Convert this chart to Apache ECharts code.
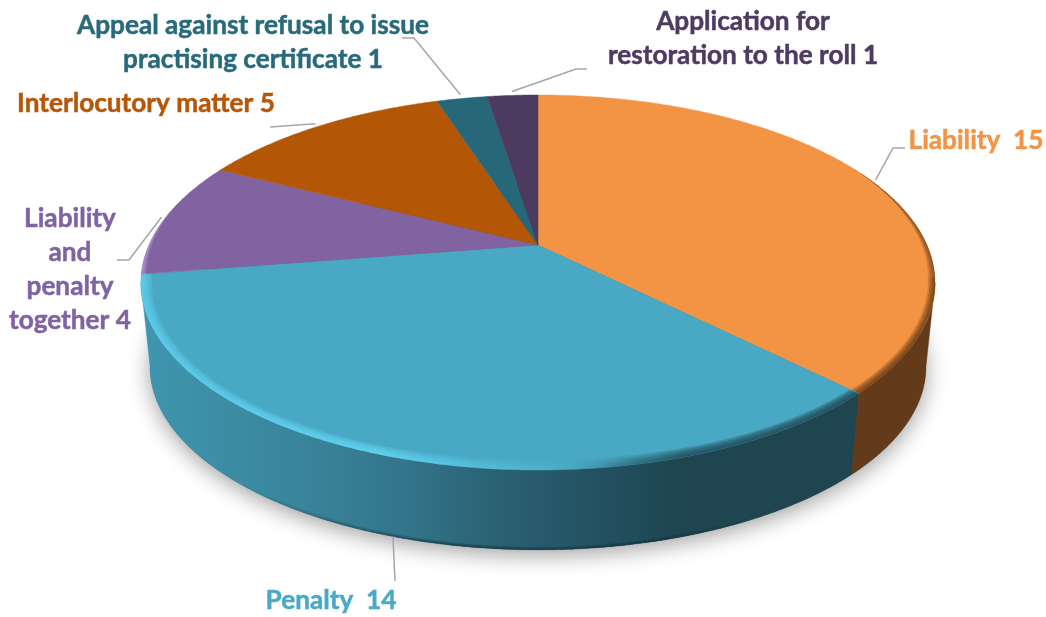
<!DOCTYPE html>
<html>
<head>
<meta charset="utf-8">
<title>Appeals by type</title>
<script src="https://cdn.jsdelivr.net/npm/echarts@6/dist/echarts.min.js"></script>
<style>
  html, body { margin: 0; padding: 0; background: #fff; }
  #chart { width: 1046px; height: 617px; }
</style>
</head>
<body>
<div id="chart"></div>
<script>
// data
const categories = [
  'Liability',
  'Penalty',
  'Liability\nand\npenalty\ntogether',
  'Interlocutory matter',
  'Appeal against refusal to issue\npractising certificate',
  'Application for\nrestoration to the roll'
];
const caseCounts = [15, 14, 4, 5, 1, 1];
const labelGaps = ['  ', '  ', ' ', ' ', ' ', ' '];

// styles
const topColors = ['#f39445', '#49a8c4', '#8063a0', '#b35605', '#266879', '#4c3a5f'];
const textColors = ['#f39445', '#4aa9c5', '#8064a2', '#b65708', '#276a7c', '#4d3b62'];
const sideColors = ['#633a1a', null, '#5a4670', '#7a3c04', '#1c4a56', '#352943'];
const LEADER_COLOR = '#a6a6a6';

// the disc is a circle seen in perspective, apex = centre of the circle
const APEX_X = 538, APEX_Y = 245;
const AX = 389, BY = 180, PERSP = 0.2;
const RIM_CX = 538, RIM_CY = 282.5;
const LOW_SCALE = 0.977, LOW_APEX_Y = 330;
// angles where the rim turns from the back of the disc to the front
const EDGE_FROM = 101.54, EDGE_TO = 258.46;

// label places, [x, y] is the middle of the text block
const labelPos = [[976, 140.5], [331, 600.5], [70, 270], [146, 104], [253, 43], [743, 39]];
// leader line after it leaves the rim
const leaderTail = [
  [[893, 148], [905, 148]],
  [[395, 581]],
  [[129, 260], [117, 260]],
  [[270, 127]],
  [[414, 38], [402, 38]],
  [[576, 69], [587, 69]]
];

const total = caseCounts.reduce((a, c) => a + c, 0);

const startAngle = i => caseCounts.slice(0, i).reduce((a, c) => a + c, 0) / total * 360;

const topPt = deg => {
  const t = deg * Math.PI / 180;
  const d = 1 + PERSP * Math.cos(t);
  return [APEX_X + AX * Math.sin(t) / d, APEX_Y - BY * Math.cos(t) / d];
};

const lowPt = deg => {
  const t = deg * Math.PI / 180;
  const d = 1 + PERSP * Math.cos(t);
  return [APEX_X + LOW_SCALE * AX * Math.sin(t) / d, LOW_APEX_Y - LOW_SCALE * BY * Math.cos(t) / d];
};

const insetPt = (deg, px) => {
  const p = topPt(deg);
  const dx = p[0] - RIM_CX, dy = p[1] - RIM_CY;
  const k = 1 - px / Math.sqrt(dx * dx + dy * dy);
  return [RIM_CX + dx * k, RIM_CY + dy * k];
};

const arcPts = (a, b, fn) => {
  const pts = [];
  const n = Math.max(2, Math.ceil(Math.abs(b - a) * 2));
  for (let i = 0; i <= n; i++) {
    pts.push(fn(a + (b - a) * i / n));
  }
  return pts;
};

const xGradient = (x0, x1, stops) => new echarts.graphic.LinearGradient(x0, 0, x1, 0, stops, true);

const penaltySide = xGradient(141, 936, [
  { offset: 0, color: '#3f96af' },
  { offset: 0.2, color: '#39859b' },
  { offset: 0.33, color: '#33758b' },
  { offset: 0.45, color: '#2a6172' },
  { offset: 0.58, color: '#235060' },
  { offset: 0.68, color: '#1e4550' },
  { offset: 1, color: '#1e4550' }
]);

const penaltyRim = xGradient(141, 936, [
  { offset: 0, color: 'rgba(96,212,242,0.24)' },
  { offset: 0.3, color: 'rgba(100,218,248,0.27)' },
  { offset: 0.42, color: 'rgba(96,212,242,0.12)' },
  { offset: 0.52, color: 'rgba(96,212,242,0.02)' },
  { offset: 0.58, color: 'rgba(30,69,80,0.05)' },
  { offset: 0.68, color: 'rgba(30,69,80,0.28)' },
  { offset: 1, color: 'rgba(30,69,80,0.32)' }
]);

// soft band inside the rim of the top face: [slice, from, to, width at from, width at to, fill]
const rimBands = [
  [0, 62, 100, 0, 7, 'rgba(80,45,15,0.17)'],
  [0, 100, 135, 7, 9, 'rgba(80,45,15,0.22)'],
  [1, 135, 261, 10, 11, penaltyRim],
  [2, 261, 282, 5, 0, 'rgba(190,160,225,0.2)']
];

const renderBase = (params, api) => {
  if (params.dataIndex !== 0) return { type: 'group', children: [] };
  return {
    type: 'polygon',
    shape: { points: arcPts(0, 360, lowPt) },
    style: {
      fill: '#555',
      shadowBlur: 22,
      shadowColor: 'rgba(0,0,0,0.38)',
      shadowOffsetY: 5
    }
  };
};

const renderSide = (params, api) => {
  const i = params.dataIndex;
  const a = Math.max(startAngle(i), EDGE_FROM);
  const b = Math.min(startAngle(i) + api.value(0) / total * 360, EDGE_TO);
  if (b <= a) return { type: 'group', children: [] };
  const fill = i === 1 ? penaltySide : sideColors[i];
  const pts = arcPts(a, b, topPt).concat(arcPts(b, a, lowPt));
  const children = [{
    type: 'polygon',
    shape: { points: pts },
    style: { fill, stroke: fill, lineWidth: 0.5 }
  }];
  if (i === 1) {
    // dark line where the side meets the floor
    for (let k = 1; k <= 3; k++) {
      const inner = arcPts(b, a, deg => {
        const p = lowPt(deg);
        return [p[0], p[1] - k];
      });
      children.push({
        type: 'polygon',
        shape: { points: arcPts(a, b, lowPt).concat(inner) },
        style: { fill: xGradient(240, 760, [
          { offset: 0, color: 'rgba(12,36,46,0)' },
          { offset: 0.4, color: 'rgba(12,36,46,0.24)' },
          { offset: 0.8, color: 'rgba(12,36,46,0.2)' },
          { offset: 1, color: 'rgba(12,36,46,0)' }
        ]) }
      });
    }
  }
  return { type: 'group', children };
};

const renderTop = (params, api) => {
  const i = params.dataIndex;
  const a = startAngle(i);
  const b = a + api.value(0) / total * 360;
  const children = [{
    type: 'polygon',
    shape: { points: [[APEX_X, APEX_Y]].concat(arcPts(a, b, topPt)) },
    style: { fill: topColors[i], stroke: topColors[i], lineWidth: 0.5 }
  }];
  rimBands.filter(r => r[0] === i).forEach(r => {
    const [, from, to, w0, w1, fill] = r;
    for (let k = 1; k <= 5; k++) {
      const inner = arcPts(to, from, deg => insetPt(deg, (w0 + (w1 - w0) * (deg - from) / (to - from)) * k / 5));
      children.push({
        type: 'polygon',
        shape: { points: arcPts(from, to, topPt).concat(inner) },
        style: { fill }
      });
    }
  });
  return { type: 'group', children };
};

const renderLabel = (params, api) => {
  const i = params.dataIndex;
  const mid = startAngle(i) + api.value(0) / total * 180;
  // front slices start on the floor edge, the others a little off the rim
  const start = mid > EDGE_FROM && mid < EDGE_TO ? lowPt(mid) : insetPt(mid, -4);
  return {
    type: 'group',
    children: [{
      type: 'polyline',
      shape: { points: [start].concat(leaderTail[i]) },
      style: { fill: 'none', stroke: LEADER_COLOR, lineWidth: 1.5 }
    }, {
      type: 'text',
      x: labelPos[i][0],
      y: labelPos[i][1],
      style: {
        text: categories[i] + labelGaps[i] + api.value(0),
        fill: textColors[i],
        stroke: textColors[i],
        lineWidth: 0.5,
        font: 'bold 26.2px Lato',
        lineHeight: 34,
        align: 'center',
        verticalAlign: 'middle'
      }
    }]
  };
};

const layer = (name, z, renderItem) => ({
  name,
  type: 'custom',
  coordinateSystem: 'none',
  silent: true,
  z,
  renderItem,
  data: caseCounts.map(v => [v])
});

const chart = echarts.init(document.getElementById('chart'), null, { renderer: 'canvas' });
chart.setOption({
  animation: false,
  backgroundColor: '#ffffff',
  series: [
    layer('base', 1, renderBase),
    layer('side', 2, renderSide),
    layer('top', 3, renderTop),
    layer('labels', 4, renderLabel)
  ]
});
</script>
</body>
</html>
